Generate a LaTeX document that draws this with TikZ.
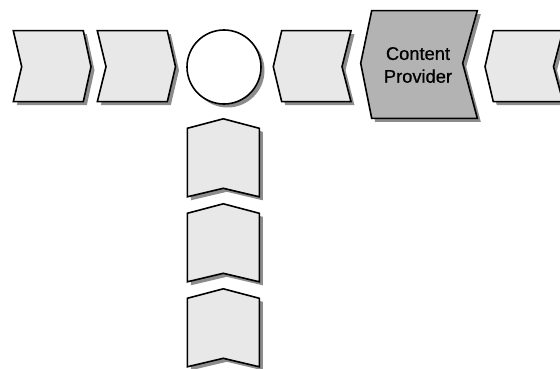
\documentclass[tikz,border=0pt]{standalone}
\usepackage{fontspec}
\setmainfont{Liberation Sans}
\newfontfamily\cpfont[FakeBold=0.7]{Liberation Sans}
\definecolor{lightfill}{HTML}{E8E8E8}
\definecolor{darkfill}{HTML}{B3B3B3}
\definecolor{shadowcol}{HTML}{8C8C8C}
\tikzset{
  outline/.style={draw=black, line width=1.6pt, line join=miter},
  shadowpart/.style={fill=shadowcol, shift={(3.5,3.5)}},
  labeltext/.style={font=\cpfont\fontsize{18.3}{22.8}\selectfont, align=center, inner sep=0pt}
}
\newcommand\chevshape[2]{%
  \fill[shadowpart] #2 -- cycle;
  \draw[outline, fill=#1] #2 -- cycle;}
\begin{document}
\begin{tikzpicture}[x=1pt, y=-1pt]
\useasboundingbox (0,0) rectangle (560,369);
% right-pointing chevrons
\chevshape{lightfill}{(13.3,30.7) -- (83.3,30.7) -- (91,66.7) -- (83.3,101.7) -- (13.3,101.7) -- (21.7,66.7)}
\chevshape{lightfill}{(97.3,30.7) -- (167.3,30.7) -- (175.5,66.7) -- (167.3,101.7) -- (97.3,101.7) -- (106,66.7)}
% circle
\fill[shadowpart] (224,67) circle (37);
\draw[outline, fill=white] (224,67) circle (37);
% left-pointing chevrons
\chevshape{lightfill}{(281.7,30.7) -- (351,30.7) -- (342,66.7) -- (351,101.7) -- (281.7,101.7) -- (273.3,66.7)}
\chevshape{darkfill}{(371.7,10.7) -- (477.3,10.7) -- (462.7,63.3) -- (477.3,118.3) -- (371.7,118.3) -- (360.7,63.3)}
\chevshape{lightfill}{(493.3,30.7) -- (563,30.7) -- (553.5,66.7) -- (563,101.7) -- (493.3,101.7) -- (485,66.7)}
\node[labeltext] (cp) at (418,65) {Content\\Provider};
% vertical chevrons
\foreach \i in {0,1,2}{
  \pgfmathsetmacro\ya{128.3+85*\i}
  \pgfmathsetmacro\yb{\ya+68.5}
  \pgfmathsetmacro\yp{\ya-9.5}
  \pgfmathsetmacro\yn{\yb-8.5}
  \chevshape{lightfill}{(223.3,\yp) -- (259.3,\ya) -- (259.3,\yb) -- (223.3,\yn) -- (187.3,\yb) -- (187.3,\ya)}
}
\end{tikzpicture}
\end{document}
